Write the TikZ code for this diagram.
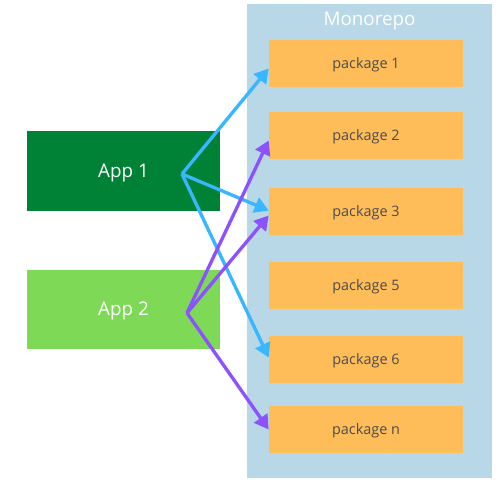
\documentclass[tikz,border=0pt]{standalone}
\usepackage{fontspec}
\setmainfont{Open Sans}
\usetikzlibrary{arrows.meta,calc}
\definecolor{appone}{HTML}{008236}
\definecolor{apptwo}{HTML}{7ED957}
\definecolor{repobg}{HTML}{B8D8E8}
\definecolor{pkgfill}{HTML}{FFBD59}
\definecolor{linkone}{HTML}{38B6FF}
\definecolor{linktwo}{HTML}{8C52FF}

\begin{document}
\begin{tikzpicture}[x=0.02cm,y=-0.02cm,
  app/.style={minimum width=3.86cm,minimum height=1.6cm,inner sep=0pt,text=white,
    text height=9.8pt,text depth=2.5pt,font=\fontsize{10.7}{12}\selectfont},
  pkg/.style={fill=pkgfill,minimum width=3.88cm,minimum height=0.94cm,inner sep=0pt,text=black!70,
    text height=8pt,text depth=1.9pt,font=\fontsize{8.2}{9}\selectfont},
  lnk/.style={line width=1.9pt,-{Triangle[length=8pt,width=9pt]}}]
\useasboundingbox (0,0) rectangle (500,500);
% repo panel
\fill[repobg] (247,4) rectangle (492,478);
\node[text=white,font=\fontsize{10.7}{12}\selectfont] (repo) at (369.5,21.5) {Monorepo};
% packages
\node[pkg] (p1) at (366,63.5) {package 1};
\node[pkg] (p2) at (366,135.5) {package 2};
\node[pkg] (p3) at (366,211.5) {package 3};
\node[pkg] (p5) at (366,285.5) {package 5};
\node[pkg] (p6) at (366,359.5) {package 6};
\node[pkg] (pn) at (366,429.5) {package n};
% apps
\node[app,fill=appone] (a1) at (123.5,171) {App 1};
\node[app,fill=apptwo] (a2) at (123.5,309.5) {App 2};
\coordinate (s1) at (182,174);
\coordinate (s2) at (187,313);
% links
\draw[lnk,linkone] (s1) -- ($(p1.west)+(0,5)$);
\draw[lnk,linkone] (s1) -- ($(p3.west)+(0,-1)$);
\draw[lnk,linkone] (s1) -- ($(p6.west)+(0,-2)$);
\draw[lnk,linktwo] (s2) -- ($(p2.west)+(0,5)$);
\draw[lnk,linktwo] (s2) -- ($(p3.west)+(0,4)$);
\draw[lnk,linktwo] (s2) -- (pn.west);
\end{tikzpicture}
\end{document}
